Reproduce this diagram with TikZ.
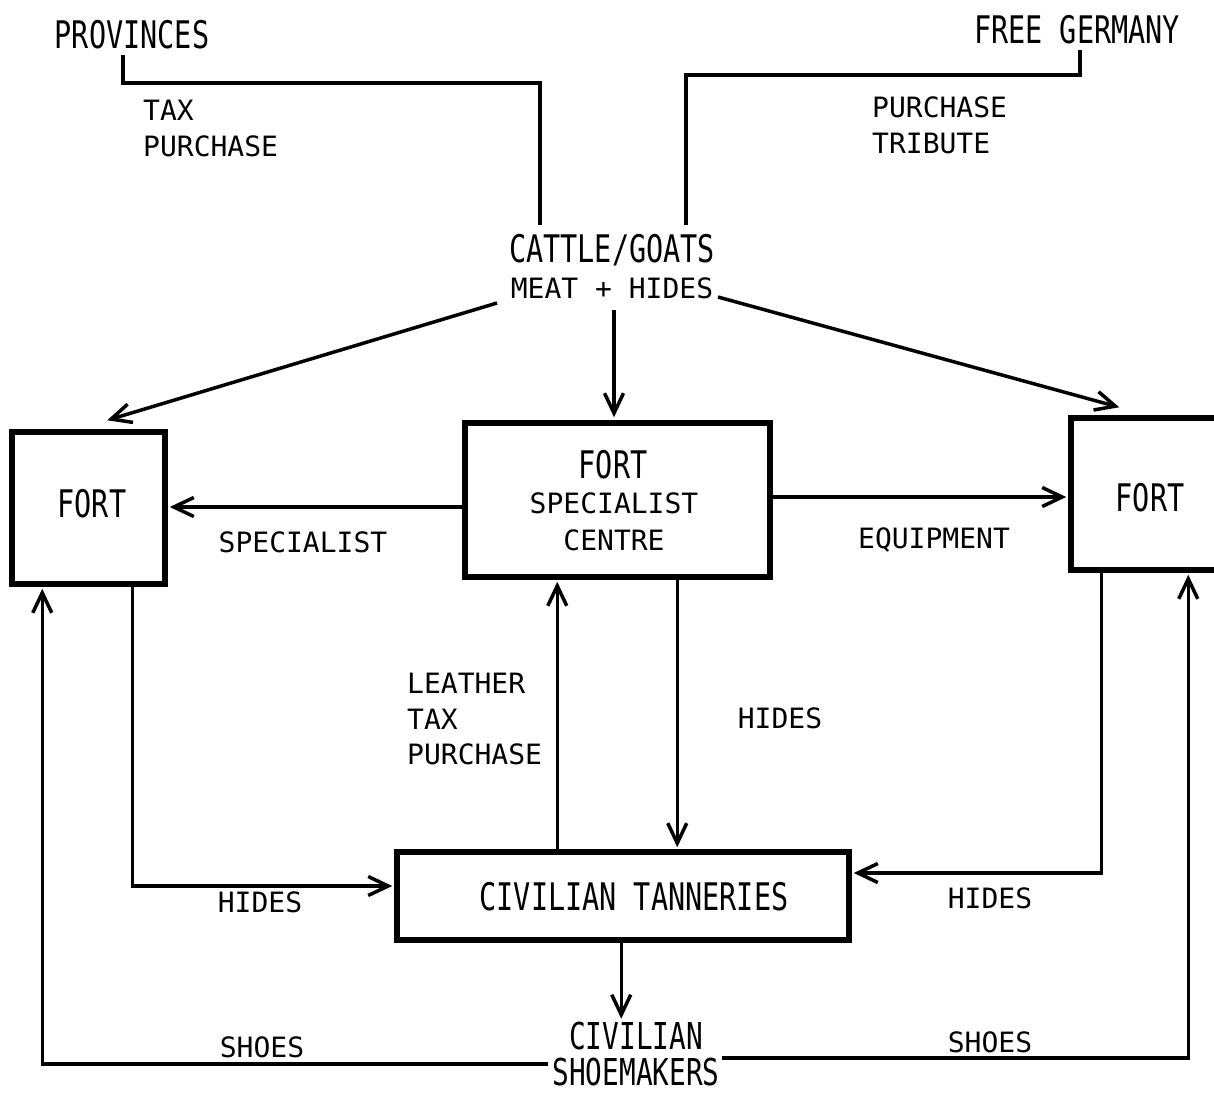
\documentclass[tikz,border=0pt]{standalone}
\usepackage{fontspec}
\usetikzlibrary{arrows.meta,calc}
\newfontfamily\titlefont[FakeStretch=0.75]{DejaVu Sans Mono}
\newfontfamily\labelfont{DejaVu Sans Mono}
\begin{document}
\begin{tikzpicture}[x=1pt,y=-1pt,
 box/.style={draw, line width=5.5pt, inner sep=0, anchor=center},
 ln/.style={line width=3.5pt},
 arr/.style={ln, -{Straight Barb[length=20pt,width=19pt]}},
 ttl/.style={inner sep=0, anchor=base, font=\titlefont\fontsize{38}{38}\selectfont},
 lbl/.style={inner sep=0, anchor=base, font=\labelfont\fontsize{28}{35.5}\selectfont},
 lbll/.style={lbl, anchor=north west, align=left},
]
\useasboundingbox (0,0) rectangle (1214,1092);
\fill[white] (0,0) rectangle (1214,1092);

% boxes
\node[box, minimum width=153pt, minimum height=152pt] (L) at (88.5,508) {};
\node[box, minimum width=305pt, minimum height=154pt] (C) at (617.5,500) {};
\node[box, minimum width=155pt, minimum height=152pt] (R) at (1148.5,494) {};
\node[box, minimum width=452pt, minimum height=88pt] (T) at (623,896) {};

% texts
\node[ttl] (prov) at (132,48) {PROVINCES};
\node[ttl] (fg) at (1077,43) {FREE GERMANY};
\node[lbll] (taxp) at (143,100) {TAX\\PURCHASE};
\node[lbll] (purtr) at (872,97) {PURCHASE\\TRIBUTE};
\node[ttl] (cattle) at (612,262) {CATTLE/GOATS};
\node[lbl] (meat) at (612,298) {MEAT + HIDES};
\node[ttl] (fortL) at (92,517) {FORT};
\node[ttl] (fortC) at (613,478) {FORT};
\node[lbl] (spec) at (614,513) {SPECIALIST};
\node[lbl] (centre) at (614,550) {CENTRE};
\node[ttl] (fortR) at (1150,511) {FORT};
\node[lbl] (specl) at (303,552) {SPECIALIST};
\node[lbl] (equip) at (934,548) {EQUIPMENT};
\node[lbll] (leather) at (407,673) {LEATHER\\TAX\\PURCHASE};
\node[lbl] (hidesC) at (780,728) {HIDES};
\node[lbl] (hidesL) at (260,912) {HIDES};
\node[ttl] (tan) at (634,910) {CIVILIAN TANNERIES};
\node[lbl] (hidesR) at (990,908) {HIDES};
\node[ttl, align=center, anchor=north, font=\titlefont\fontsize{37}{36}\selectfont] (shoe) at (636,1022) {CIVILIAN\\SHOEMAKERS};
\node[lbl] (shoesL) at (262,1057) {SHOES};
\node[lbl] (shoesR) at (990,1052) {SHOES};

% connectors
\coordinate (pv1) at (123,55);
\coordinate (pv2) at (540,225);
\draw[ln] (pv1) -- ++(0,28) -| (pv2);
\coordinate (fg1) at (1080,50);
\coordinate (fg2) at (686,225);
\draw[ln] (fg1) -- ++(0,25) -| (fg2);

\coordinate (ca1) at (497,303);
\coordinate (ca2) at (614,310);
\coordinate (ca3) at (718,297);
\draw[arr] (ca1) -- ($(L.north west)+(98,-9)$);
\draw[arr] (ca2) -- ($(C.north -| ca2)+(0,-3)$);
\draw[arr] (ca3) -- ($(R.north west)+(51,-8)$);

\draw[arr] ($(C.west)+(0,7)$) coordinate (s1) -- ($(L.east |- s1)+(2,0)$);
\draw[arr] ($(C.east)+(0,-3)$) coordinate (s2) -- ($(R.west |- s2)+(-2,0)$);
\draw[arr] ($(L.south west)+(123,0)$) |- ($(T.west)+(-2,-10)$);
\draw[arr] ($(T.north west)+(163,0)$) coordinate (s3) -- ($(C.south -| s3)+(0,2)$);
\draw[arr] ($(C.south west)+(215,0)$) coordinate (s4) -- ($(T.north -| s4)+(0,-2)$);
\draw[arr] ($(R.south west)+(33,0)$) |- ($(T.east)+(2,-23)$);
\draw[arr] ($(T.south west)+(227,0)$) -- ++(0,76);

\coordinate (sl1) at (548,1064);
\draw[arr] (sl1) -| ($(L.south west)+(33,2)$);
\coordinate (sr1) at (722,1058);
\draw[arr] (sr1) -| ($(R.south west)+(120,2)$);
\end{tikzpicture}
\end{document}
